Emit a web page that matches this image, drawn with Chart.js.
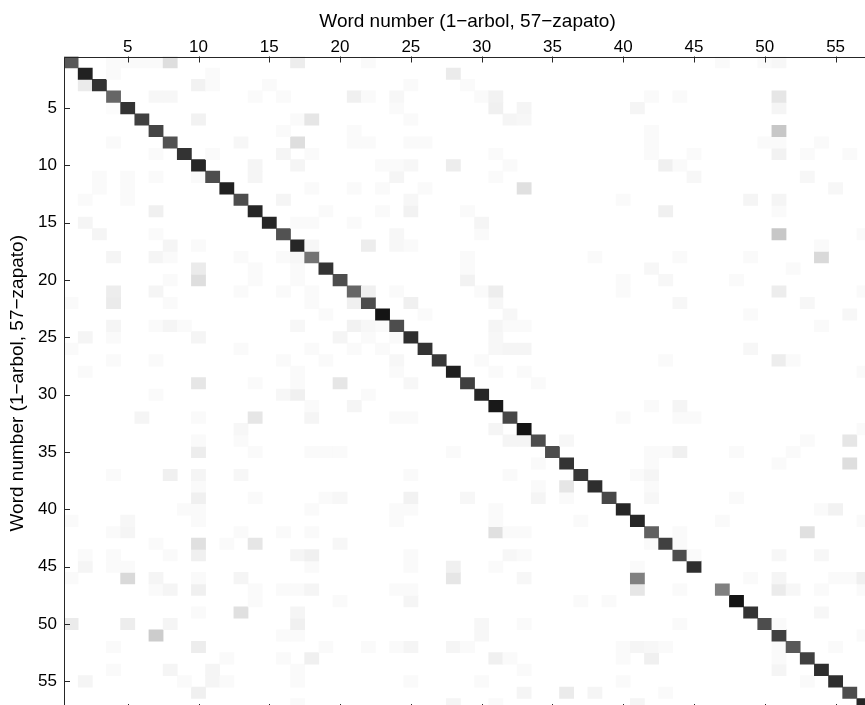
<!DOCTYPE html>
<html>
<head>
<meta charset="utf-8">
<script src="https://cdn.jsdelivr.net/npm/chart.js@4.4.0/dist/chart.umd.min.js"></script>
<style>
html, body { margin: 0; padding: 0; background: #fff; overflow: hidden; }
#wrap { position: absolute; left: 0; top: 0; width: 880px; height: 720px; }
</style>
</head>
<body>
<div id="wrap"><canvas id="confChart" width="880" height="720"></canvas></div>
<script>
// word indices (1-arbol ... 57-zapato)
const words = [1,2,3,4,5,6,7,8,9,10,11,12,13,14,15,16,17,18,19,20,21,22,23,24,25,26,27,28,29,30,
  31,32,33,34,35,36,37,38,39,40,41,42,43,44,45,46,47,48,49,50,51,52,53,54,55,56,57];
const xTicks = [5,10,15,20,25,30,35,40,45,50,55];
const yTicks = [5,10,15,20,25,30,35,40,45,50,55];

// darkness of the diagonal cells (0 = white, 1 = black)
const diag = [0.65,0.87,0.80,0.60,0.80,0.75,0.73,0.68,0.80,0.85,0.70,0.87,0.70,0.85,0.85,0.68,0.85,0.55,0.80,
  0.70,0.60,0.70,0.92,0.70,0.82,0.80,0.78,0.88,0.75,0.85,0.90,0.72,0.92,0.70,0.70,0.80,0.78,0.82,
  0.72,0.85,0.85,0.62,0.75,0.70,0.82,0.00,0.50,0.92,0.80,0.70,0.75,0.65,0.75,0.82,0.82,0.70,0.85];

// off-diagonal confusions: [row, col, darkness]
const offDiag = [
  [1,4,.02],[1,5,.02],[1,6,.02],[1,7,.02],[1,8,.13],[1,17,.07],[1,22,.02],[1,47,.02],[1,50,.02],[1,51,.03],
  [2,4,.02],[2,11,.02],[2,28,.08],
  [3,2,.08],[3,10,.05],[3,11,.02],[3,15,.02],[3,25,.02],[3,29,.02],
  [4,7,.03],[4,8,.03],[4,14,.02],[4,16,.02],[4,21,.06],[4,22,.02],[4,24,.03],[4,30,.02],[4,31,.05],[4,42,.02],[4,44,.02],[4,51,.1],
  [5,4,.01],[5,24,.02],[5,31,.06],[5,33,.04],[5,41,.04],[5,51,.04],
  [6,10,.05],[6,17,.02],[6,18,.1],[6,25,.02],[6,32,.04],[6,33,.03],
  [7,16,.02],[7,21,.02],[7,42,.02],[7,51,.22],
  [8,4,.02],[8,13,.03],[8,17,.13],[8,21,.02],[8,22,.02],[8,25,.02],[8,26,.02],[8,42,.02],[8,50,.02],[8,51,.02],[8,54,.02],
  [9,7,.02],[9,11,.02],[9,16,.04],[9,18,.02],[9,31,.02],[9,42,.02],[9,45,.02],[9,51,.05],[9,53,.02],[9,56,.02],
  [10,14,.04],[10,17,.04],[10,23,.02],[10,24,.02],[10,25,.03],[10,28,.07],[10,32,.02],[10,43,.06],[10,44,.02],
  [11,3,.02],[11,5,.02],[11,7,.02],[11,10,.02],[11,14,.04],[11,24,.04],[11,31,.02],[11,45,.03],[11,53,.03],
  [12,3,.02],[12,5,.02],[12,18,.02],[12,21,.02],[12,23,.02],[12,26,.02],[12,33,.12],[12,55,.03],
  [13,2,.02],[13,5,.02],[13,16,.04],[13,25,.03],[13,40,.02],[13,49,.04],[13,51,.04],
  [14,7,.06],[14,19,.02],[14,23,.02],[14,25,.05],[14,29,.02],[14,43,.06],[14,51,.02],
  [15,2,.04],[15,17,.02],[15,18,.02],[15,21,.02],[15,30,.04],
  [16,3,.04],[16,7,.02],[16,24,.03],[16,30,.02],[16,51,.22],[16,57,.02],
  [17,8,.04],[17,10,.02],[17,18,.03],[17,22,.07],[17,24,.03],[17,25,.02],[17,54,.02],
  [18,4,.04],[18,7,.04],[18,8,.02],[18,13,.02],[18,16,.02],[18,17,.03],[18,29,.02],[18,38,.02],[18,44,.02],[18,49,.02],[18,54,.15],
  [19,10,.08],[19,14,.02],[19,17,.02],[19,29,.02],[19,42,.03],[19,52,.02],
  [20,8,.02],[20,10,.13],[20,14,.02],[20,17,.02],[20,29,.05],[20,40,.02],[20,43,.03],[20,48,.02],
  [21,4,.07],[21,7,.04],[21,13,.02],[21,16,.02],[21,18,.02],[21,22,.06],[21,24,.02],[21,30,.02],[21,31,.07],[21,40,.02],[21,51,.07],[21,57,.02],
  [22,1,.02],[22,4,.08],[22,8,.02],[22,18,.02],[22,21,.06],[22,25,.06],[22,31,.03],[22,44,.03],[22,53,.03],
  [23,19,.02],[23,26,.02],[23,32,.03],[23,49,.02],[23,56,.03],
  [24,4,.04],[24,7,.02],[24,8,.04],[24,9,.02],[24,17,.03],[24,21,.05],[24,22,.03],[24,23,.02],[24,31,.04],[24,32,.02],[24,33,.02],[24,54,.02],
  [25,2,.04],[25,4,.02],[25,10,.04],[25,20,.04],[25,22,.02],[25,24,.02],[25,31,.03],
  [26,1,.02],[26,13,.02],[26,18,.02],[26,21,.02],[26,23,.02],[26,31,.03],[26,32,.04],[26,33,.04],[26,49,.03],
  [27,4,.02],[27,7,.02],[27,16,.02],[27,19,.02],[27,24,.03],[27,30,.02],[27,43,.02],[27,51,.07],[27,52,.02],
  [28,2,.02],[28,17,.02],[28,24,.02],[28,31,.02],[28,33,.02],[28,57,.02],
  [29,10,.1],[29,14,.02],[29,17,.02],[29,20,.1],[29,25,.03],[29,34,.02],
  [30,7,.02],[30,16,.03],[30,17,.06],[30,22,.02],
  [31,18,.02],[31,21,.04],[31,42,.02],[31,44,.04],
  [32,6,.04],[32,10,.02],[32,14,.1],[32,18,.04],[32,24,.02],[32,25,.02],[32,40,.02],[32,44,.02],[32,45,.02],
  [33,13,.03],[33,31,.04],[33,57,.02],
  [34,10,.02],[34,13,.02],[34,32,.04],[34,33,.04],[34,36,.03],[34,53,.02],[34,56,.1],
  [35,10,.07],[35,14,.02],[35,18,.02],[35,19,.02],[35,20,.02],[35,28,.02],[35,42,.02],[35,43,.02],[35,44,.06],[35,48,.02],[35,52,.02],
  [36,34,.02],[36,42,.02],[36,51,.02],[36,56,.13],
  [37,4,.02],[37,8,.06],[37,10,.04],[37,13,.03],[37,25,.02],[37,32,.02],[37,41,.02],[37,42,.04],
  [38,10,.02],[38,34,.02],[38,36,.1],[38,42,.02],
  [39,10,.06],[39,14,.02],[39,19,.02],[39,20,.03],[39,25,.05],[39,29,.03],[39,34,.04],[39,36,.02],[39,42,.03],[39,48,.02],
  [40,9,.02],[40,10,.02],[40,18,.02],[40,24,.02],[40,25,.02],[40,31,.02],[40,54,.02],[40,55,.05],
  [41,1,.02],[41,5,.03],[41,10,.02],[41,24,.02],[41,31,.02],[41,37,.02],[41,47,.02],[41,57,.02],
  [42,4,.02],[42,5,.04],[42,13,.02],[42,16,.02],[42,18,.02],[42,31,.12],[42,32,.02],[42,33,.02],[42,44,.02],[42,53,.12],
  [43,7,.02],[43,10,.12],[43,12,.02],[43,14,.1],[43,20,.03],[43,42,.02],[43,44,.02],
  [44,2,.02],[44,4,.02],[44,8,.02],[44,10,.06],[44,17,.04],[44,18,.06],[44,25,.02],[44,32,.03],[44,33,.02],[44,45,.02],[44,51,.03],[44,54,.03],
  [45,2,.04],[45,4,.02],[45,5,.02],[45,18,.02],[45,25,.02],[45,28,.06],[45,31,.02],[45,41,.02],
  [46,1,.02],[46,5,.15],[46,7,.04],[46,10,.02],[46,13,.04],[46,28,.1],[46,33,.03],[46,41,.5],[46,49,.02],[46,51,.04],[46,55,.02],[46,56,.02],[46,57,.06],
  [47,7,.02],[47,8,.04],[47,10,.06],[47,14,.02],[47,16,.02],[47,17,.02],[47,18,.04],[47,24,.02],[47,25,.02],[47,41,.1],[47,44,.02],[47,51,.08],[47,52,.03],[47,54,.02],[47,57,.02],
  [48,14,.02],[48,20,.02],[48,25,.04],[48,37,.02],[48,39,.02],
  [49,10,.02],[49,13,.12],[49,17,.04],[49,54,.03],
  [50,1,.08],[50,5,.07],[50,8,.04],[50,17,.06],[50,30,.03],[50,33,.02],[50,44,.02],[50,51,.02],
  [51,7,.2],[51,16,.02],[51,17,.02],[51,30,.03],[51,57,.02],
  [52,4,.02],[52,10,.07],[52,19,.02],[52,22,.02],[52,24,.02],[52,25,.04],[52,28,.04],[52,29,.02],[52,40,.02],[52,41,.04],[52,42,.03],[52,43,.02],[52,51,.02],[52,55,.02],
  [53,12,.02],[53,16,.02],[53,18,.06],[53,31,.06],[53,32,.02],[53,40,.02],[53,42,.06],[53,51,.02],
  [54,4,.02],[54,8,.04],[54,11,.04],[54,17,.02],[54,33,.02],[54,51,.04],
  [55,2,.04],[55,9,.02],[55,11,.04],[55,12,.02],[55,17,.02],[55,25,.02],[55,30,.02],[55,40,.02],[55,53,.02],
  [56,10,.06],[56,33,.04],[56,36,.08],[56,38,.04],[56,43,.02],
  [57,17,.02],[57,28,.04],[57,31,.02],[57,41,.04]
];

// build full matrix
const matrix = words.map(r => words.map(c => (r === c ? diag[r - 1] : 0)));
offDiag.forEach(([r, c, v]) => { matrix[r - 1][c - 1] = v; });

function shade(v) {
  const g = Math.round(255 * (1 - v));
  return 'rgb(' + g + ',' + g + ',' + g + ')';
}

// one floating-bar dataset per row of the matrix
const datasets = words.map((r, ri) => ({
  label: 'row ' + r,
  data: words.map((c, ci) => (matrix[ri][ci] > 0 ? [r - 0.5, r + 0.5] : null)),
  backgroundColor: words.map((c, ci) => shade(matrix[ri][ci])),
  borderWidth: 0,
  barPercentage: 1,
  categoryPercentage: 1,
  grouped: false
}));

const axisColor = '#262626';
const tickFont = { family: '"Liberation Sans", Arial, sans-serif', size: 17 };
const titleFont = { family: '"Liberation Sans", Arial, sans-serif', size: 19 };
const titleText = 'Word number (1\u2212arbol, 57\u2212zapato)';

// box round the image with inward ticks on all four sides
const frameTicks = {
  id: 'frameTicks',
  afterDatasetsDraw(chart) {
    const { ctx, chartArea: a, scales } = chart;
    const len = 6;
    ctx.save();
    ctx.strokeStyle = axisColor;
    ctx.lineWidth = 1;
    ctx.beginPath();
    xTicks.forEach(v => {
      const px = Math.round(scales.x.getPixelForValue(v - 1)) + 0.5;
      ctx.moveTo(px, a.top); ctx.lineTo(px, a.top + len);
      ctx.moveTo(px, a.bottom); ctx.lineTo(px, a.bottom - len);
    });
    yTicks.forEach(v => {
      const py = Math.round(scales.y.getPixelForValue(v)) + 0.5;
      ctx.moveTo(a.left, py); ctx.lineTo(a.left + len, py);
      ctx.moveTo(a.right, py); ctx.lineTo(a.right - len, py);
    });
    ctx.rect(Math.round(a.left) + 0.5, Math.round(a.top) + 0.5,
      Math.round(a.right) - Math.round(a.left), Math.round(a.bottom) - Math.round(a.top));
    ctx.stroke();
    ctx.restore();
  }
};

const ctx = document.getElementById('confChart').getContext('2d');
const chart = new Chart(ctx, {
  type: 'bar',
  data: { labels: words, datasets: datasets },
  options: {
    responsive: false,
    animation: false,
    layout: { padding: { left: 0, top: 0, right: 9, bottom: 10 } },
    plugins: { legend: { display: false }, tooltip: { enabled: false } },
    scales: {
      x: {
        type: 'category',
        position: 'top',
        offset: true,
        grid: { display: false, drawTicks: false },
        border: { display: false },
        ticks: {
          autoSkip: false, maxRotation: 0, minRotation: 0, padding: -1,
          color: '#000', font: tickFont,
          callback: (val, i) => (xTicks.includes(words[i]) ? String(words[i]) : '')
        },
        title: { display: true, text: titleText, color: '#000', font: titleFont, padding: { top: 10, bottom: 0 } },
        afterFit: scale => {
          scale.height = 56.5;
          scale.paddingLeft = 0; scale.paddingRight = 0;
        }
      },
      y: {
        type: 'linear',
        reverse: true,
        min: 0.5,
        max: 57.5,
        grid: { display: false, drawTicks: false },
        border: { display: false },
        afterBuildTicks: scale => { scale.ticks = yTicks.map(v => ({ value: v })); },
        ticks: { padding: 7, color: '#000', font: tickFont },
        title: { display: true, text: titleText, color: '#000', font: titleFont, padding: { top: 6, bottom: 0 } },
        afterFit: scale => {
          scale.width = 64;
          scale.paddingTop = 0; scale.paddingBottom = 0;
        }
      }
    }
  },
  plugins: [frameTicks]
});
</script>
</body>
</html>
